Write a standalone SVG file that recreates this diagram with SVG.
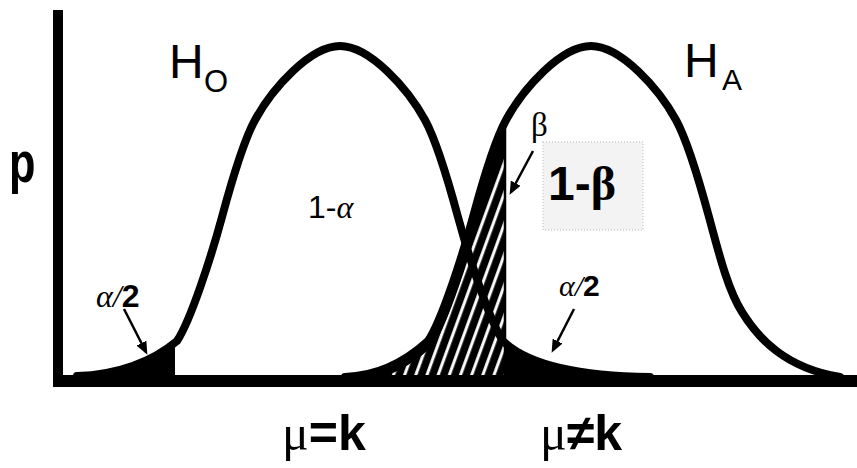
<svg xmlns="http://www.w3.org/2000/svg" width="857" height="468" viewBox="0 0 857 468">
<style>
.curve{fill:none;stroke:#000;stroke-width:8;stroke-linejoin:round;stroke-linecap:round}
.sans{font-family:"Liberation Sans",Arial,sans-serif;fill:#000}
.serif{font-family:"Liberation Serif","Times New Roman",serif;fill:#000}
.arrow{stroke:#000;stroke-width:2.5;fill:none;marker-end:url(#ah)}
</style>
<defs>
<path id="h0" d="M77,376 C117,375 152,362 177,341 C191,320 212,254 222,217 C232,180 243,142 255,120 C272,89 310,46 340,46 C370,46 408,89 425,120 C437,142 448,180 458,217 C468,254 489,320 503,341 C528,365 578,376 650,377"/>
<path id="ha" d="M345,377 C378,376 405,362 428,341 C442,320 463,254 473,217 C483,180 494,142 506,120 C523,89 561,46 591,46 C621,46 659,89 676,120 C688,142 699,180 709,217 C719,254 728,290 742,312 C758,338 785,368 840,377"/>
<clipPath id="cl"><rect x="0" y="0" width="175" height="468"/></clipPath>
<clipPath id="cr"><rect x="505" y="0" width="352" height="468"/></clipPath>
<clipPath id="cb"><rect x="0" y="0" width="505" height="468"/></clipPath>
<clipPath id="cin"><use href="#ha"/></clipPath>
<pattern id="hatch" patternUnits="userSpaceOnUse" width="10.5" height="10" patternTransform="rotate(20)">
<rect width="10.5" height="10" fill="#000"/>
<rect x="3" width="3" height="10" fill="#fff"/>
</pattern>
<marker id="ah" markerUnits="userSpaceOnUse" markerWidth="13" markerHeight="11" viewBox="0 0 13 11" refX="10" refY="5.5" orient="auto">
<path d="M0,0 L13,5.5 L0,11 Z" fill="#000"/>
</marker>
</defs>
<rect width="857" height="468" fill="#fff"/>

<g id="fills">
<use href="#h0" fill="#000" clip-path="url(#cl)"/>
<g clip-path="url(#cb)">
<use href="#ha" fill="url(#hatch)"/>
<g clip-path="url(#cin)"><use href="#ha" fill="none" stroke="#000" stroke-width="14"/></g>
</g>
<use href="#h0" fill="#000" clip-path="url(#cr)"/>
</g>

<g id="critical-line">
<line x1="505" y1="125" x2="505" y2="381" stroke="#000" stroke-width="2.5"/>
</g>

<g id="curve-h0"><use href="#h0" class="curve"/></g>
<g id="curve-ha"><use href="#ha" class="curve"/></g>

<g id="axes">
<rect x="53" y="10" width="10" height="377" fill="#000"/>
<rect x="53" y="375" width="804" height="12" fill="#000"/>
</g>

<g id="box-1-beta">
<rect x="543" y="142" width="100" height="88" fill="#f3f3f3" stroke="#d0d0d0" stroke-width="1.5" stroke-dasharray="1 2"/>
</g>

<g id="labels">
<text class="sans" x="9" y="182" font-size="57" font-weight="bold" transform="translate(9,182) scale(0.76,1) translate(-9,-182)">p</text>
<text class="sans" x="169" y="78" font-size="48">H</text>
<text class="sans" x="204" y="92" font-size="31">O</text>
<text class="sans" x="684" y="77" font-size="48">H</text>
<text class="sans" x="722" y="90" font-size="30">A</text>
<text x="308" y="218" font-size="32"><tspan class="sans">1-</tspan><tspan class="serif" font-style="italic">α</tspan></text>
<text class="serif" x="531" y="136" font-size="33">β</text>
<text x="548" y="200" font-size="48" font-weight="bold"><tspan class="sans">1-</tspan><tspan class="serif">β</tspan></text>
<text x="96" y="307" font-size="32"><tspan class="serif" font-style="italic">α/</tspan><tspan class="sans" font-weight="bold">2</tspan></text>
<text x="559" y="296" font-size="30"><tspan class="serif" font-style="italic">α/</tspan><tspan class="sans" font-weight="bold">2</tspan></text>
<text x="282" y="450" font-size="50"><tspan class="serif">μ</tspan><tspan class="sans" font-weight="bold">=k</tspan></text>
<text x="540" y="450" font-size="50"><tspan class="serif">μ</tspan><tspan class="sans" font-weight="bold">≠k</tspan></text>
</g>

<g id="connectors">
<line class="arrow" x1="124" y1="309" x2="146" y2="352"/>
<line class="arrow" x1="574" y1="309" x2="553" y2="350"/>
<line class="arrow" x1="533" y1="151" x2="511" y2="192"/>
</g>
</svg>
